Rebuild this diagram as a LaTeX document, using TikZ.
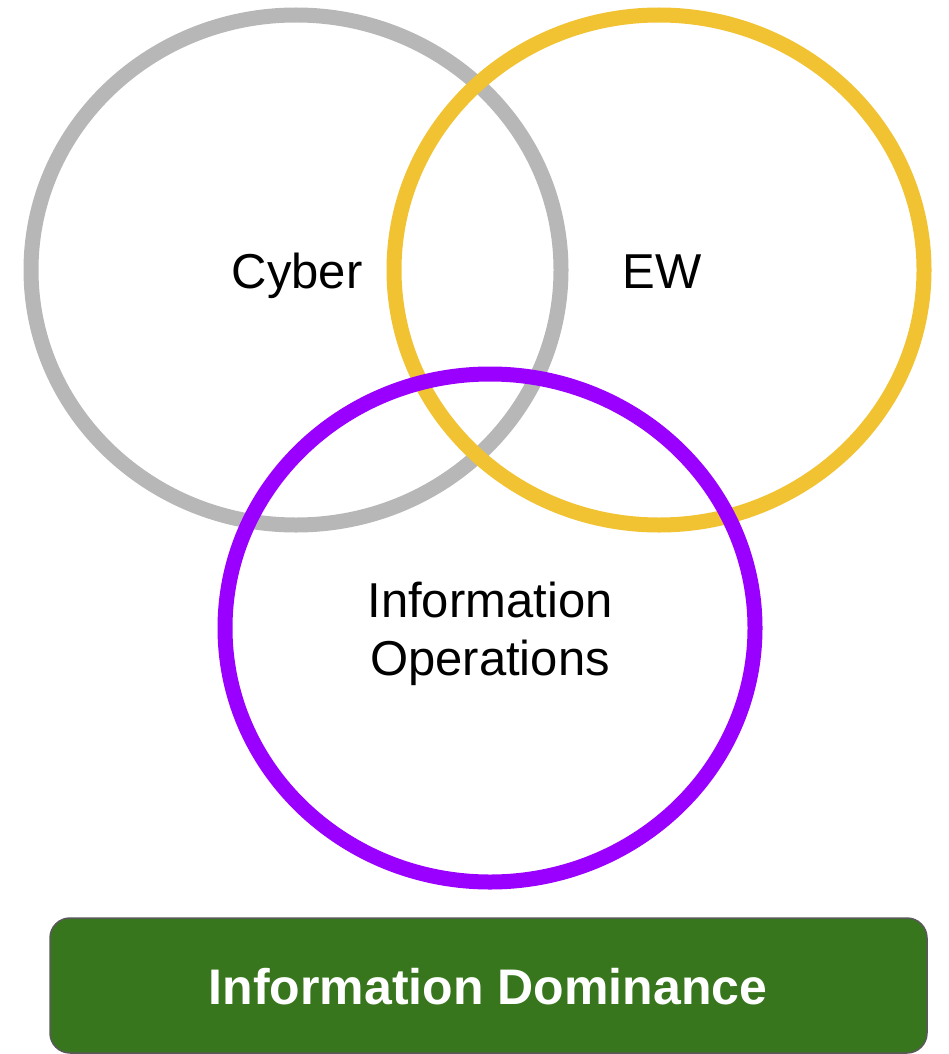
\documentclass[tikz,border=0pt]{standalone}
\usepackage{fontspec}
\setmainfont{Liberation Sans}
\definecolor{cybergray}{HTML}{B7B7B7}
\definecolor{ewyellow}{HTML}{F1C232}
\definecolor{iopurple}{HTML}{9900FF}
\definecolor{domgreen}{HTML}{38761D}
\definecolor{domborder}{HTML}{595959}
\tikzset{
  ring/.style={line width=15pt},
  lbl/.style={font=\fontsize{49}{58}\selectfont, text=black, anchor=base, inner sep=0pt, align=center},
  banner/.style={fill=domgreen, draw=domborder, line width=1.5pt, rounded corners=20pt}
}
\begin{document}
\begin{tikzpicture}[x=1pt,y=-1pt]
  \useasboundingbox (0,0) rectangle (948,1054);
  % three overlapping domains
  \draw[ring, cybergray] (296,270) ellipse [x radius=265, y radius=255];
  \draw[ring, ewyellow] (659,270) ellipse [x radius=265, y radius=255];
  \draw[ring, iopurple] (490,628) ellipse [x radius=265, y radius=254];
  % labels
  \node[lbl] (cyber) at (297,288) {Cyber};
  \node[lbl] (ew) at (662,288) {EW};
  \node[lbl] (io1) at (490,617) {Information};
  \node[lbl] (io2) at (490,675) {Operations};
  % outcome banner
  \draw[banner] (50,918) rectangle (927,1053);
  \node[lbl, text=white, font=\fontsize{50}{58}\selectfont\bfseries] (dom) at (488,1004) {Information Dominance};
\end{tikzpicture}
\end{document}
